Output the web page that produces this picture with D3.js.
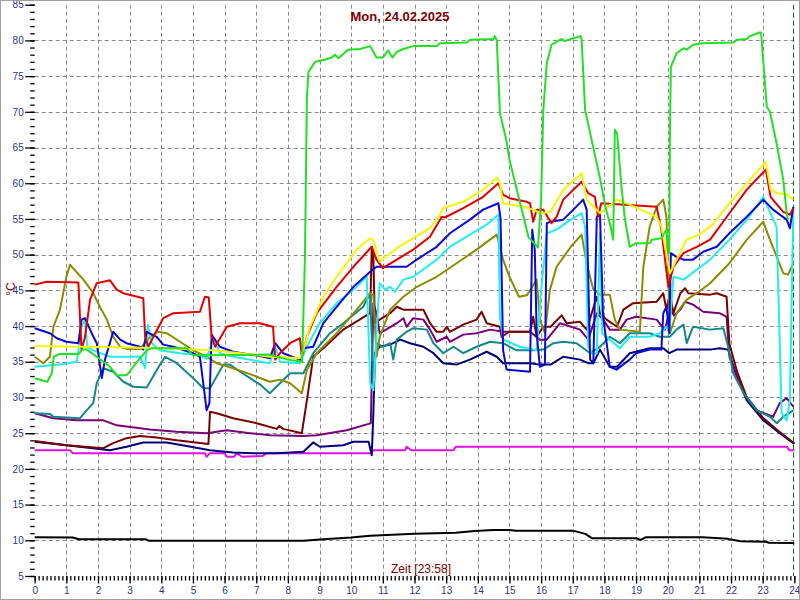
<!DOCTYPE html>
<html>
<head>
<meta charset="utf-8">
<script src="https://cdn.jsdelivr.net/npm/d3@7"></script>
<style>
html,body{margin:0;padding:0;background:#fff;}
svg{display:block;font-family:"Liberation Sans",Arial,sans-serif;}
</style>
</head>
<body>
<svg id="chart" width="800" height="600"></svg>
<script>
// ---- data: [hour, °C] ----
const titleText = "Mon, 24.02.2025";
const xLabelText = "Zeit [23:58]";
const yLabelText = "°C";
const xTicks = d3.range(0, 25, 1);
const yTicks = d3.range(5, 86, 5);

const black = [[0,10.42],[1.2,10.4],[1.4,10.14],[3.5,10.14],[3.6,9.95],[8.5,9.95],[9.0,10.1],[10.0,10.4],[10.6,10.65],[12.0,10.9],[13.3,11.07],[13.9,11.3],[14.5,11.45],[15.0,11.45],[15.2,11.35],[17.0,11.35],[17.4,10.9],[17.6,10.3],[19.0,10.3],[19.15,10.05],[19.3,10.42],[21.1,10.42],[21.9,10.2],[22.3,9.86],[23.1,9.8],[23.2,9.66],[24,9.62]];

const magenta = [[0,22.6],[1.12,22.6],[1.2,22.2],[5.38,22.2],[5.43,21.7],[5.54,22.2],[6.0,22.2],[6.07,21.7],[6.3,21.7],[6.38,22.2],[6.55,21.7],[7.2,21.8],[7.33,22.2],[10.6,22.2],[10.7,22.6],[11.7,22.6],[11.75,23.1],[11.9,22.6],[13.23,22.6],[13.3,23.1],[23.76,23.1],[23.85,22.6],[24,22.6]];

const navy = [[0,23.8],[1.0,23.3],[2.38,22.6],[2.9,23.1],[3.43,23.7],[4.17,23.7],[4.8,23.2],[5.54,22.6],[6.27,22.3],[6.91,22.2],[7.65,22.2],[8.49,22.4],[8.8,23.7],[9.01,23.1],[9.75,23.3],[10.07,23.8],[10.55,23.8],[10.65,21.9],[10.7,27.8],[10.72,31.0],[10.75,36.2],[10.9,37.1],[11.23,37.4],[11.55,38.1],[11.86,37.6],[12.28,37.1],[12.6,36.2],[12.91,34.8],[13.33,34.6],[13.75,35.3],[14.28,36.4],[14.6,35.7],[14.8,34.8],[15.65,34.8],[15.96,34.6],[16.3,34.6],[16.7,35.7],[17.23,35.3],[17.49,34.8],[17.65,34.8],[17.86,36.7],[18.17,34.3],[18.4,34.3],[18.8,36.2],[19.43,36.9],[19.86,36.9],[20.05,36.2],[20.28,36.7],[21.34,36.7],[21.64,36.9],[21.91,36.7],[22.18,32.9],[22.5,29.6],[23.02,26.8],[23.54,25.0],[24,23.5]];

const purple = [[0,27.8],[0.59,27.1],[1.33,26.8],[2.17,26.8],[2.59,26.1],[3.64,25.5],[4.49,25.2],[5.43,25.0],[6.07,25.4],[6.8,25.0],[7.43,24.7],[8.49,24.6],[8.91,24.7],[9.86,25.4],[10.55,26.3],[10.62,26.4],[10.7,43.2],[10.8,41.8],[10.9,39.0],[11.1,39.5],[11.44,40.4],[11.65,41.1],[11.75,39.9],[11.96,41.1],[12.28,40.9],[12.49,39.5],[12.7,37.8],[13.02,38.5],[13.12,37.8],[13.54,38.8],[13.96,39.0],[14.39,39.5],[14.8,39.2],[15.65,39.2],[15.96,38.1],[16.18,38.1],[16.6,40.4],[17.23,39.5],[17.49,38.1],[17.76,41.8],[17.96,40.9],[18.17,39.5],[18.49,39.5],[18.7,40.9],[19.0,41.3],[19.65,40.9],[19.91,39.5],[20.07,42.3],[20.2,41.5],[20.4,42.3],[20.55,43.4],[20.8,43.0],[21.12,42.0],[21.64,41.8],[21.86,41.3],[21.95,35.7],[22.4,30.6],[22.81,28.2],[23.33,27.3],[23.54,29.2],[23.76,29.9],[23.97,28.7]];

const maroon = [[0,23.9],[1.0,23.3],[2.17,22.9],[2.48,23.6],[2.9,24.3],[3.33,24.6],[3.85,24.4],[4.49,24.0],[5.49,23.5],[5.54,28.0],[5.75,27.8],[6.27,27.1],[7.01,26.4],[7.65,25.6],[7.73,26.0],[7.85,25.6],[8.44,25.0],[8.6,29.6],[8.8,35.7],[9.12,36.9],[9.75,39.5],[10.6,41.8],[10.65,51.1],[10.7,49.7],[10.75,40.4],[10.9,40.9],[11.23,41.8],[11.44,42.7],[11.65,42.3],[12.28,42.3],[12.49,40.4],[12.7,39.2],[12.91,39.2],[13.02,39.9],[13.12,39.2],[13.54,40.2],[13.96,40.9],[14.12,42.0],[14.28,40.4],[14.7,39.9],[14.75,38.5],[15.0,39.2],[15.65,39.2],[15.75,41.3],[15.86,38.5],[16.07,39.9],[16.3,39.9],[16.65,41.5],[16.81,40.4],[17.23,40.6],[17.44,39.5],[17.76,44.1],[17.86,41.8],[18.07,40.9],[18.4,39.9],[18.6,42.3],[18.91,43.2],[19.65,43.4],[19.86,44.6],[19.96,42.3],[20.07,44.6],[20.18,41.8],[20.4,44.6],[20.55,45.3],[20.65,44.6],[21.34,44.4],[21.55,44.6],[21.86,44.1],[21.95,37.5],[22.2,33.5],[22.5,30.0],[23.0,27.2],[23.5,25.3],[24,23.6]];

const teal = [[0,27.8],[0.48,27.7],[0.59,27.3],[1.43,27.1],[1.64,28.2],[1.85,29.2],[1.96,32.0],[2.17,34.1],[2.48,33.6],[2.8,32.2],[3.12,31.5],[3.54,31.4],[3.96,34.6],[4.12,35.7],[4.49,34.8],[5.01,32.7],[5.33,31.3],[5.54,31.3],[5.96,34.6],[6.17,34.6],[6.49,33.6],[7.12,31.8],[7.43,30.6],[7.75,32.0],[8.07,33.4],[8.49,33.4],[8.8,36.2],[9.33,39.0],[9.75,40.4],[10.38,42.7],[10.6,44.6],[10.7,32.0],[10.8,37.6],[11.0,37.1],[11.23,37.6],[11.33,35.3],[11.44,38.1],[11.75,39.2],[11.96,39.7],[12.39,39.5],[12.6,37.6],[12.91,36.2],[13.23,37.1],[13.54,36.2],[13.96,37.1],[14.39,37.8],[14.8,37.6],[15.23,36.6],[15.75,36.6],[16.07,36.7],[16.39,37.6],[16.7,37.8],[17.12,37.6],[17.55,36.2],[17.86,37.1],[18.17,38.5],[18.49,37.6],[18.8,39.0],[19.43,39.0],[19.75,38.5],[20.07,38.5],[20.28,39.5],[20.5,40.2],[20.6,37.6],[20.8,39.9],[21.34,39.5],[21.76,39.7],[21.91,37.1],[22.07,33.4],[22.4,30.6],[22.81,28.2],[23.23,27.3],[23.45,26.4],[23.65,27.3],[23.97,28.2]];

const olive = [[0,35.7],[0.27,34.8],[0.48,35.7],[0.59,39.9],[0.8,42.3],[1.0,46.9],[1.12,48.6],[1.17,48.3],[1.54,46.5],[1.85,44.6],[2.06,42.7],[2.28,40.9],[2.48,38.5],[2.7,37.1],[2.9,36.8],[3.33,36.8],[3.64,38.5],[3.9,39.2],[4.17,39.0],[4.59,37.8],[5.01,36.6],[5.43,35.7],[5.75,34.8],[6.27,34.1],[6.91,33.1],[7.43,32.2],[7.75,32.5],[8.07,32.0],[8.44,30.6],[8.6,33.9],[8.91,36.2],[9.54,39.0],[10.17,42.3],[10.6,44.6],[10.7,44.3],[10.8,35.7],[10.9,38.5],[11.23,42.3],[11.65,44.1],[12.07,45.5],[12.7,46.9],[13.33,48.8],[13.96,50.7],[14.6,52.8],[14.8,49.3],[15.0,46.9],[15.3,44.1],[15.55,44.3],[15.86,46.5],[15.96,40.9],[16.12,39.0],[16.28,45.1],[16.49,48.3],[16.94,51.1],[17.28,52.8],[17.44,48.8],[17.65,45.1],[17.86,44.4],[18.17,44.4],[18.33,40.9],[18.49,39.5],[19.12,39.2],[19.23,48.3],[19.43,53.9],[19.65,56.7],[19.86,57.7],[19.96,55.3],[20.07,39.0],[20.28,41.8],[20.6,43.7],[20.92,44.6],[21.34,46.0],[21.95,48.8],[22.5,52.1],[23.02,54.6],[23.23,52.1],[23.65,47.4],[23.8,47.2],[23.97,48.8]];

const cyan = [[0,34.3],[0.8,34.6],[1.33,35.0],[1.48,39.9],[1.59,40.9],[1.66,37.1],[1.85,36.6],[2.38,35.7],[3.33,35.7],[3.49,34.1],[3.57,40.2],[3.7,37.6],[3.96,36.6],[4.59,36.2],[5.22,35.9],[5.43,35.4],[5.64,38.3],[5.85,36.2],[6.27,35.7],[7.43,34.8],[7.6,37.1],[7.75,35.0],[8.38,34.8],[8.6,37.1],[9.0,40.4],[9.54,43.2],[10.07,45.1],[10.49,46.9],[10.6,32.0],[10.7,31.0],[10.85,42.7],[10.9,46.0],[11.07,45.1],[11.23,45.5],[11.38,44.8],[11.65,46.5],[11.96,46.9],[12.7,49.3],[13.12,51.1],[13.75,52.8],[14.28,54.2],[14.65,55.6],[14.7,41.3],[14.8,38.1],[15.33,37.1],[15.86,36.6],[16.0,45.0],[16.18,53.0],[16.49,53.5],[16.94,54.9],[17.28,55.8],[17.39,53.9],[17.49,37.1],[17.6,36.2],[17.76,36.2],[17.86,53.0],[17.93,39.0],[18.17,38.1],[18.49,36.9],[18.8,38.5],[19.43,38.5],[19.75,39.0],[19.96,39.9],[20.05,39.0],[20.18,46.9],[20.5,46.5],[20.92,47.9],[21.34,49.3],[21.95,52.1],[22.5,54.9],[23.02,58.1],[23.44,53.9],[23.6,27.8],[23.76,26.8],[23.86,29.6],[23.97,56.7]];

const blue = [[0,39.7],[0.48,39.0],[0.7,38.3],[1.0,37.8],[1.38,37.6],[1.48,40.9],[1.59,41.1],[1.8,39.0],[1.96,37.6],[2.12,32.7],[2.22,35.3],[2.48,39.2],[2.7,38.1],[2.9,37.6],[3.33,37.1],[3.43,36.7],[3.54,39.2],[3.85,38.5],[4.06,37.4],[4.38,37.1],[5.01,36.2],[5.22,35.7],[5.38,30.1],[5.43,28.2],[5.52,29.2],[5.59,38.8],[5.85,37.1],[6.27,36.4],[7.12,35.8],[7.43,35.5],[7.6,37.6],[7.85,36.2],[8.38,35.3],[8.49,36.9],[8.8,37.1],[9.12,40.4],[9.54,42.7],[10.07,45.5],[10.6,47.6],[10.8,48.3],[11.75,48.3],[12.07,49.3],[12.7,51.1],[13.12,53.0],[13.75,54.9],[14.17,56.3],[14.65,57.2],[14.72,55.0],[14.8,36.6],[14.91,33.9],[15.65,33.6],[15.72,53.5],[15.8,50.7],[15.86,39.0],[15.96,34.3],[16.12,34.6],[16.18,54.4],[16.28,54.6],[16.7,54.9],[17.02,56.3],[17.33,57.7],[17.44,56.3],[17.55,35.3],[17.65,34.8],[17.76,55.3],[17.86,55.8],[17.96,41.3],[18.17,34.3],[18.38,33.9],[18.8,35.3],[19.0,36.2],[19.43,36.7],[19.8,36.7],[19.86,41.8],[19.96,42.7],[20.05,39.0],[20.1,50.2],[20.28,49.7],[20.5,49.3],[20.8,49.3],[21.12,50.4],[21.55,51.1],[21.95,53.0],[22.5,55.3],[23.02,57.7],[23.33,56.3],[23.76,54.9],[23.86,53.7],[23.97,56.7]];

const red = [[0,45.8],[0.38,46.2],[1.38,46.1],[1.43,41.3],[1.48,36.6],[1.59,38.5],[1.75,43.7],[1.96,46.0],[2.38,46.4],[2.59,45.1],[2.8,44.6],[3.43,43.9],[3.49,38.5],[3.59,37.1],[3.75,38.5],[4.06,41.1],[4.38,41.8],[5.22,42.0],[5.38,44.1],[5.5,44.0],[5.59,38.5],[5.7,37.1],[6.07,39.9],[6.49,40.4],[7.12,40.4],[7.43,40.0],[7.53,39.9],[7.6,35.3],[7.75,36.2],[8.07,37.6],[8.38,38.3],[8.44,35.7],[8.6,38.5],[8.91,41.8],[9.54,45.5],[10.17,48.8],[10.65,51.1],[10.8,49.3],[11.0,48.1],[11.44,49.3],[11.96,50.7],[12.49,52.5],[12.86,55.3],[12.96,55.2],[13.54,56.5],[14.17,58.1],[14.65,60.0],[14.8,58.4],[15.0,57.9],[15.55,57.4],[15.65,57.2],[15.75,54.6],[15.86,56.3],[16.07,56.3],[16.33,54.4],[16.49,55.3],[16.7,57.7],[17.28,60.2],[17.49,58.6],[17.7,58.1],[17.8,55.3],[17.9,57.2],[19.65,56.7],[19.8,53.5],[20.02,45.5],[20.18,48.3],[20.5,50.2],[20.92,51.1],[21.34,52.1],[21.95,55.8],[22.5,59.1],[23.1,61.9],[23.25,58.1],[23.65,56.0],[23.86,55.6],[23.97,56.5]];

const yellow = [[0,37.2],[1.5,37.1],[3.0,37.0],[4.0,36.9],[5.65,36.6],[6.5,36.2],[7.43,35.7],[8.0,35.6],[8.38,35.5],[8.49,36.7],[8.7,39.9],[9.12,44.1],[9.54,46.9],[10.17,50.7],[10.6,52.3],[10.7,52.0],[10.9,49.0],[11.1,49.7],[11.44,50.9],[11.96,52.3],[12.49,53.7],[12.8,55.6],[12.9,56.5],[13.54,57.4],[14.17,59.1],[14.6,60.8],[14.7,60.0],[14.8,57.2],[15.44,56.7],[15.75,56.3],[15.96,55.8],[16.3,56.0],[16.7,59.1],[17.28,61.4],[17.44,57.7],[17.86,55.8],[18.4,57.7],[18.8,57.0],[19.65,55.3],[19.8,53.9],[20.07,47.4],[20.28,49.3],[20.6,52.1],[21.0,52.8],[21.42,54.2],[21.95,57.2],[22.4,59.5],[23.1,63.0],[23.25,59.1],[23.45,58.6],[23.76,58.5],[23.97,57.7]];

const green = [[0,32.7],[0.4,32.2],[0.54,33.4],[0.6,35.7],[0.8,36.1],[1.4,36.1],[1.5,36.7],[1.65,36.7],[1.96,35.7],[2.38,34.3],[2.6,33.1],[2.9,33.1],[3.0,33.6],[3.2,34.8],[3.54,36.6],[3.7,36.9],[4.8,36.9],[5.0,35.9],[5.6,35.9],[7.4,36.0],[8.0,35.3],[8.45,35.0],[8.54,50.0],[8.6,72.0],[8.65,75.6],[8.86,77.0],[9.17,77.3],[9.38,77.6],[9.49,78.0],[9.6,77.5],[9.9,78.7],[10.28,78.8],[10.6,79.2],[10.8,77.6],[11.0,77.6],[11.17,78.6],[11.3,77.6],[11.44,78.4],[11.65,78.8],[11.96,79.2],[12.7,79.2],[12.8,79.6],[13.65,79.7],[13.75,80.1],[14.49,80.2],[14.54,80.6],[14.6,80.0],[14.7,69.8],[14.9,66.1],[15.0,63.3],[15.6,52.5],[15.9,51.0],[16.0,57.7],[16.07,70.3],[16.18,76.8],[16.33,79.4],[16.65,80.2],[16.75,79.9],[16.94,80.2],[17.25,80.6],[17.28,80.1],[17.39,70.3],[17.55,67.0],[17.87,60.5],[18.03,56.7],[18.2,53.9],[18.28,52.1],[18.33,67.5],[18.4,67.0],[18.54,59.5],[18.65,54.9],[18.8,51.1],[19.0,51.6],[19.43,51.6],[19.5,52.1],[19.8,52.3],[19.96,53.5],[20.05,50.2],[20.07,67.0],[20.1,76.3],[20.28,78.2],[20.5,78.9],[20.6,78.7],[20.8,79.4],[21.1,79.6],[22.07,79.7],[22.18,80.1],[22.5,80.2],[22.6,80.6],[22.9,81.1],[22.95,81.1],[23.13,70.7],[23.23,70.0],[23.44,65.6],[23.65,60.5],[23.76,55.8],[23.8,54.9]];

const seriesList = [
  {data: black,   color: "#000000"},
  {data: magenta, color: "#e010e0"},
  {data: navy,    color: "#00007a"},
  {data: purple,  color: "#7a007a"},
  {data: maroon,  color: "#780000"},
  {data: teal,    color: "#128888"},
  {data: olive,   color: "#8c8c00"},
  {data: cyan,    color: "#22eeee"},
  {data: blue,    color: "#0a0ad8"},
  {data: red,     color: "#e00000"},
  {data: yellow,  color: "#f6f600"},
  {data: green,   color: "#22e022"}
];
const nowHour = 23.97;

// ---- drawing ----
const svg = d3.select("#chart");
const x = d3.scaleLinear().domain([0, 24]).range([34.7, 794.3]);
const y = d3.scaleLinear().domain([5, 85]).range([576, 4.7]);

svg.append("rect").attr("width", 800).attr("height", 600).attr("fill", "#fff");

// grid
const grid = svg.append("g").attr("stroke", "#8a8a8a").attr("stroke-width", 1).attr("stroke-dasharray", "4,3");
grid.selectAll("line.v").data(xTicks.filter(d => d > 0 && d < 24)).join("line")
  .attr("x1", d => Math.round(x(d)) + 0.5).attr("x2", d => Math.round(x(d)) + 0.5)
  .attr("y1", y(85)).attr("y2", y(5));
grid.selectAll("line.h").data(yTicks.filter(d => d > 5 && d < 85)).join("line")
  .attr("x1", x(0)).attr("x2", x(24))
  .attr("y1", d => Math.round(y(d)) + 0.5).attr("y2", d => Math.round(y(d)) + 0.5);

// current-time marker
svg.append("line")
  .attr("x1", Math.round(x(nowHour)) + 0.5).attr("x2", Math.round(x(nowHour)) + 0.5)
  .attr("y1", y(85)).attr("y2", y(5))
  .attr("stroke", "#0a7a0a").attr("stroke-width", 1).attr("stroke-dasharray", "5,3");

// axes
const tickColor = "#333388";
const yMinor = svg.append("g").attr("transform", `translate(${x(0)},0)`)
  .call(d3.axisLeft(y).tickValues(d3.range(5, 86, 1)).tickSize(4.5).tickFormat(""));
const yMajor = svg.append("g").attr("transform", `translate(${x(0)},0)`)
  .call(d3.axisLeft(y).tickValues(yTicks).tickSize(9.5).tickPadding(1.5));
const xMinor = svg.append("g").attr("transform", `translate(0,${y(5)})`)
  .call(d3.axisBottom(x).tickValues(d3.range(0, 24.01, 0.125)).tickSize(4.5).tickFormat(""));
const xMajor = svg.append("g").attr("transform", `translate(0,${y(5)})`)
  .call(d3.axisBottom(x).tickValues(xTicks).tickSize(7.5).tickPadding(3.5));
[yMinor, yMajor, xMinor, xMajor].forEach(g => {
  g.select(".domain").remove();
  g.selectAll(".tick line").attr("stroke", "#000").attr("stroke-width", 1.3);
  g.selectAll("text").attr("fill", tickColor).attr("font-size", 10)
    .attr("font-family", "'Liberation Sans', Arial, sans-serif");
});

// series lines
const line = d3.line().x(d => x(d[0])).y(d => y(d[1]));
const plot = svg.append("g");
seriesList.forEach(s => {
  plot.append("path").datum(s.data).attr("d", line)
    .attr("fill", "none").attr("stroke", s.color).attr("stroke-width", 2)
    .attr("stroke-linejoin", "round");
});

// texts
svg.append("text").attr("x", 400).attr("y", 21).attr("text-anchor", "middle")
  .attr("font-size", 13).attr("font-weight", "bold").attr("fill", "#800000").text(titleText);
svg.append("text").attr("x", 391).attr("y", 573).attr("text-anchor", "start")
  .attr("font-size", 12).attr("fill", "#800000").text(xLabelText);
svg.append("text").attr("transform", "translate(15,289) rotate(-90)").attr("text-anchor", "middle")
  .attr("font-size", 12).attr("fill", "#800000").text(yLabelText);

// frame
svg.append("rect").attr("x", 0.5).attr("y", 0.5).attr("width", 799).attr("height", 599)
  .attr("fill", "none").attr("stroke", "#a0a0a0").attr("stroke-width", 1);
</script>
</body>
</html>
